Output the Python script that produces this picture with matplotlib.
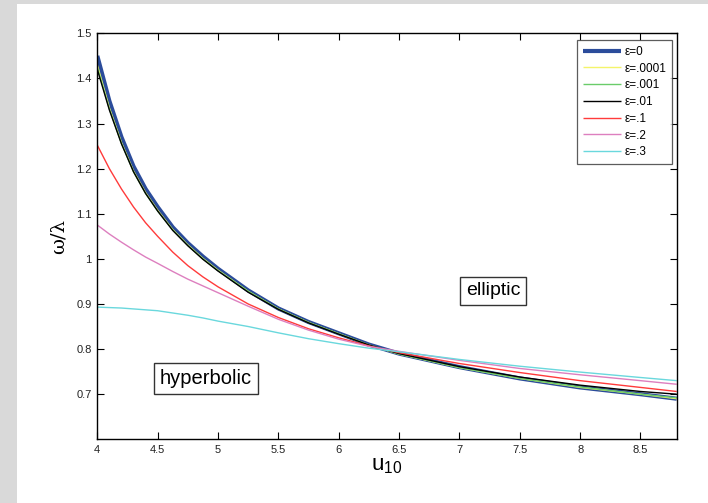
import matplotlib
matplotlib.use("Agg")
import matplotlib.pyplot as plt
from matplotlib.patches import Rectangle

plt.rcParams['font.family'] = ['Liberation Sans', 'DejaVu Sans']
plt.rcParams['mathtext.fontset'] = 'custom'
plt.rcParams['mathtext.rm'] = 'Liberation Sans'
plt.rcParams['mathtext.it'] = 'Liberation Sans:italic'

# ---- data ----
u10 = [4.0, 4.1, 4.2, 4.3, 4.4, 4.5, 4.625, 4.75, 4.875, 5.0, 5.25, 5.5, 5.75,
       6.0, 6.25, 6.5, 7.0, 7.5, 8.0, 8.5, 8.8]

eps0 = [1.45, 1.35, 1.27, 1.205, 1.155, 1.115, 1.07, 1.035, 1.005, 0.978, 0.93,
        0.89, 0.86, 0.835, 0.81, 0.79, 0.76, 0.735, 0.715, 0.70, 0.69]
eps0001 = [1.43, 1.335, 1.258, 1.195, 1.147, 1.108, 1.065, 1.031, 1.001, 0.975, 0.928,
           0.889, 0.859, 0.834, 0.809, 0.789, 0.759, 0.735, 0.715, 0.70, 0.69]
eps001 = [1.425, 1.332, 1.256, 1.193, 1.145, 1.106, 1.064, 1.030, 1.000, 0.974, 0.928,
          0.889, 0.859, 0.834, 0.809, 0.789, 0.759, 0.735, 0.716, 0.70, 0.692]
eps01 = [1.42, 1.33, 1.255, 1.193, 1.145, 1.106, 1.063, 1.029, 0.999, 0.973, 0.926,
         0.888, 0.858, 0.833, 0.809, 0.79, 0.761, 0.738, 0.72, 0.706, 0.70]
eps1 = [1.252, 1.20, 1.155, 1.115, 1.08, 1.05, 1.015, 0.985, 0.96, 0.938, 0.90,
        0.87, 0.845, 0.825, 0.807, 0.792, 0.768, 0.748, 0.73, 0.715, 0.706]
eps2 = [1.075, 1.055, 1.037, 1.02, 1.004, 0.99, 0.972, 0.955, 0.94, 0.925, 0.895,
        0.866, 0.842, 0.822, 0.806, 0.795, 0.775, 0.757, 0.743, 0.73, 0.722]
eps3 = [0.893, 0.892, 0.891, 0.889, 0.887, 0.885, 0.88, 0.875, 0.869, 0.862, 0.85,
        0.836, 0.823, 0.812, 0.802, 0.794, 0.777, 0.762, 0.749, 0.737, 0.73]

series = [
    (eps0, '\u03b5=0', '#2b4c9b', 3.0),
    (eps0001, '\u03b5=.0001', '#f4f46a', 1.0),
    (eps001, '\u03b5=.001', '#6acc6a', 1.0),
    (eps01, '\u03b5=.01', '#000000', 1.0),
    (eps1, '\u03b5=.1', '#ff3b3b', 1.0),
    (eps2, '\u03b5=.2', '#dd7fbf', 1.0),
    (eps3, '\u03b5=.3', '#6ad8dd', 1.0),
]

xticks = [4, 4.5, 5, 5.5, 6, 6.5, 7, 7.5, 8, 8.5]
xticklabels = ['4', '4.5', '5', '5.5', '6', '6.5', '7', '7.5', '8', '8.5']
yticks = [0.7, 0.8, 0.9, 1.0, 1.1, 1.2, 1.3, 1.4, 1.5]
yticklabels = ['0.7', '0.8', '0.9', '1', '1.1', '1.2', '1.3', '1.4', '1.5']

fig = plt.figure(figsize=(7.08, 5.03), dpi=100)
fig.patch.set_facecolor('white')
# gray frame strips (left and top)
fig.add_artist(Rectangle((0, 0), 17 / 708, 1, transform=fig.transFigure,
                         facecolor='#d9d9d9', edgecolor='none', zorder=-1))
fig.add_artist(Rectangle((0, 1 - 4 / 503), 1, 4 / 503, transform=fig.transFigure,
                         facecolor='#d9d9d9', edgecolor='none', zorder=-1))

ax = fig.add_axes([97.3 / 708, (503 - 439.3) / 503, (676.7 - 97.3) / 708, (439.3 - 33.3) / 503])

for vals, lab, col, lw in series:
    ax.plot(u10, vals, color=col, lw=lw, label=lab, solid_capstyle='butt')

ax.set_xlim(4, 8.8)
ax.set_ylim(0.6, 1.5)
ax.set_xticks(xticks)
ax.set_xticklabels(xticklabels)
ax.set_yticks(yticks)
ax.set_yticklabels(yticklabels)
ax.tick_params(direction='in', length=5, width=0.8, top=True, right=True,
               labelsize=8, labelcolor='#222222', pad=4)
for s in ax.spines.values():
    s.set_linewidth(1.0)

ax.set_xlabel('$\\mathregular{u_{10}}$', fontsize=16, labelpad=0)
ax.set_ylabel('\u03c9/\u03bb', fontsize=14, family=['DejaVu Serif'], labelpad=6)

leg = ax.legend(loc='upper right', bbox_to_anchor=(0.9924, 0.9835), fontsize=8.5,
                frameon=True, fancybox=False, edgecolor='#333333', handlelength=3.2,
                handletextpad=0.3, labelspacing=0.4, borderpad=0.5, borderaxespad=0)
leg.get_frame().set_linewidth(0.9)

bbox = dict(boxstyle='square,pad=0.3', facecolor='white', edgecolor='#333333', lw=1.0)
ax.text(4.9, 0.734, 'hyperbolic', fontsize=14.5, ha='center', va='center', bbox=bbox)
ax.text(7.28, 0.929, 'elliptic', fontsize=14, ha='center', va='center', bbox=bbox)

fig.savefig('out.png', dpi=100)
